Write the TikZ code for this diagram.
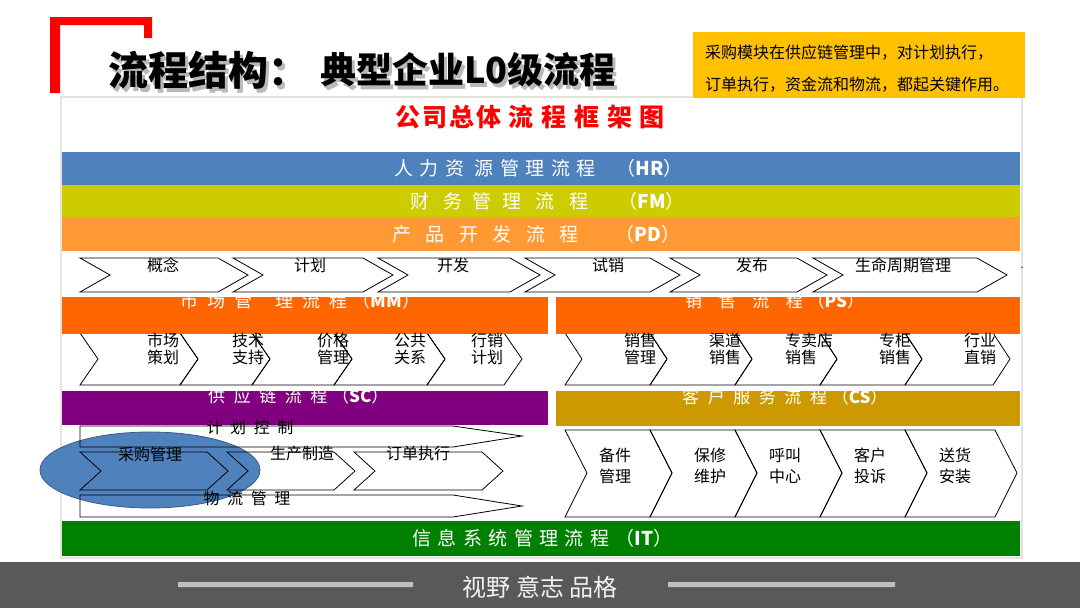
\documentclass[tikz,border=0pt]{standalone}
\usepackage{fontspec}
\setmainfont{Noto Sans CJK SC}
\newfontfamily\bandafont[LetterSpace=34]{Noto Sans CJK SC}
\newfontfamily\bandbfont[LetterSpace=54]{Noto Sans CJK SC}
\newfontfamily\bandcfont[LetterSpace=28]{Noto Sans CJK SC}
\newfontfamily\cabfont[LetterSpace=8]{Noto Sans CJK SC}
\newfontfamily\espfont[LetterSpace=25]{Noto Sans CJK SC}
\usepackage{xcolor}
\usepackage{tikz}
\usetikzlibrary{positioning}
\definecolor{rojo}{RGB}{255,0,0}
\definecolor{azul}{RGB}{79,129,189}
\definecolor{azulosc}{RGB}{56,93,138}
\definecolor{oliva}{RGB}{204,204,0}
\definecolor{naranja}{RGB}{255,153,51}
\definecolor{naranjaf}{RGB}{255,102,0}
\definecolor{morado}{RGB}{128,0,128}
\definecolor{oro}{RGB}{204,153,0}
\definecolor{verde}{RGB}{0,128,0}
\definecolor{amarillo}{RGB}{255,192,0}
\definecolor{pie}{RGB}{89,89,89}
\definecolor{raya}{RGB}{191,191,191}
\definecolor{borde}{RGB}{228,228,218}
\newcommand{\sigla}[1]{{\normalfont\bfseries #1}}
\tikzset{
  banda/.style={inner sep=0pt,anchor=west,text=white,font=\bandafont\fontsize{19}{19}\selectfont},
  bandaw/.style={banda,font=\bandbfont\fontsize{19}{19}\selectfont},
  bandab/.style={banda,font=\bandcfont\fontsize{17}{17}\selectfont},
  flecha/.style={draw=black,line width=0.8pt},
  etiq/.style={inner sep=0pt,align=center,font=\fontsize{16}{17}\selectfont},
  etiqs/.style={etiq,font=\fontsize{16}{21}\selectfont},
  titulo/.style={inner sep=0pt,anchor=west,font=\bfseries\fontsize{36}{36}\selectfont},
  nota/.style={inner sep=0pt,anchor=west,font=\fontsize{16}{16}\selectfont}
}

\begin{document}
\begin{tikzpicture}[x=1pt,y=-1pt]
\useasboundingbox (0,0) rectangle (1080,608);
\fill[white] (0,0) rectangle (1080,608);
% marco
\draw[borde,line width=2.5pt,fill=white] (61,97) rectangle (1022,558);
% corchete rojo y titulo
\fill[rojo] (50,17) rectangle (152,25) (50,17) rectangle (60,93) (144,17) rectangle (152,38);
\node[titulo,font=\bfseries\fontsize{40}{40}\selectfont,text=gray!55] (tit1s) at (111,74) {流程结构：};
\node[titulo,font=\bfseries\fontsize{40}{40}\selectfont] (tit1) at (108,70) {流程结构：};
\node[titulo,text=gray!55] (tit2s) at (323,74) {典型企业L0级流程};
\node[titulo] (tit2) at (320,70) {典型企业L0级流程};
% nota
\fill[amarillo] (693,32) rectangle (1025,98);
\node[nota] (nota1) at (705,53) {采购模块在供应链管理中，对计划执行，};
\node[nota] (nota2) at (705,85) {订单执行，资金流和物流，都起关键作用。};
\node[inner sep=0pt,text=rojo,font=\cabfont\bfseries\fontsize{25}{25}\selectfont] (cab) at (530,117) {公司总体 流 程 框 架 图};

% bandas superiores
\fill[azul] (62,152) rectangle (1020,185);
\node[banda] (hr) at (394,168) {人力资 源管理流程\hspace{10pt} （\sigla{HR}）};
\fill[oliva] (62,185) rectangle (1020,217);
\node[bandaw] (fm) at (410,201) {财 务管理 流 程\hspace{16pt} （\sigla{FM}）};
\fill[naranja] (62,217) rectangle (1020,251);
\node[bandaw] (pd) at (392,234) {产 品 开 发 流 程\hspace{22pt} （\sigla{PD}）};

% MM y PS
\foreach \l/\t in {80/198,180/270,252/352,334/445,427/522}
  \draw[flecha] (\l,333) -- (\t-18,333) -- (\t,359) -- (\t-18,385) -- (\l,385) -- (\l+18,359) -- cycle;
\foreach \l/\t in {565/667,650/752,735/837,820/922,905/1010}
  \draw[flecha] (\l,333) -- (\t-17,333) -- (\t,359) -- (\t-17,385) -- (\l,385) -- (\l+17,359) -- cycle;
\fill[naranjaf] (62,297) rectangle (548,333.5);
\node[bandab,font=\bandcfont\fontsize{18}{18}\selectfont] (mm) at (180,301) {市 场 管\hspace{14pt} 理 流 程（\sigla{MM}）};
\fill[naranjaf] (556,297) rectangle (1020,333.5);
\node[bandab] (ps) at (685,301) {销\hspace{8pt} 售\hspace{8pt} 流\hspace{8pt} 程（\sigla{PS}）};

% PD
\foreach \l/\t in {80/248,233/393,378/540,525/680,670/827,813/1007}
  \draw[flecha] (\l,258) -- (\t-30,258) -- (\t,275) -- (\t-30,292) -- (\l,292) -- (\l+30,275) -- cycle;
\foreach \x/\txt [count=\i] in {163/概念,310/计划,453/开发,608/试销,752/发布,903/生命周期管理}
  \node[etiq] (pd\i) at (\x,265) {\txt};
\node[inner sep=0pt,font=\fontsize{10}{10}\selectfont] (punto) at (1022,268) {.};

\foreach \x/\txt [count=\i] in {163/市场\\策划,248/技术\\支持,333/价格\\管理,410/公共\\关系,487/行销\\计划}
  \node[etiq] (mm\i) at (\x,349) {\txt};
\foreach \x/\txt [count=\i] in {640/销售\\管理,725/渠道\\销售,895/专柜\\销售,980/行业\\直销}
  \node[etiq] (ps\i) at (\x,349) {\txt};
\node[etiq,align=left,anchor=west] (ps5) at (785,349) {专卖店\\销售};

% SC y CS
\fill[morado] (62,391) rectangle (548,425);
\node[bandab] (sc) at (208,396) {供 应 链 流 程（\sigla{SC}）};
\fill[oro] (556,391) rectangle (1020,426);
\node[bandab] (cs) at (682,397) {客 户 服 务 流 程（\sigla{CS}）};

\draw[fill=azul,draw=azulosc,line width=0.8pt] (150,470) ellipse [x radius=110,y radius=38];
\draw[flecha] (80,426) -- (453,426) -- (522,436) -- (453,447) -- (80,447) -- cycle;
\foreach \l/\t in {80/228,227/355,354/503}
  \draw[flecha] (\l,452) -- (\t-21,452) -- (\t,471) -- (\t-21,490) -- (\l,490) -- (\l+21,471) -- cycle;
\draw[flecha] (80,495) -- (453,495) -- (522,506) -- (453,517) -- (80,517) -- cycle;
\node[etiq,font=\espfont\fontsize{16}{16}\selectfont] (plan) at (250,427) {计 划 控 制};
\node[etiq] (compra) at (150,454) {采购管理};
\node[etiq] (prod) at (302,453) {生产制造};
\node[etiq] (orden) at (418,453) {订单执行};
\node[etiq,font=\espfont\fontsize{16}{16}\selectfont] (logis) at (247,498) {物 流 管 理};

\foreach \l/\t in {565/672,650/757,735/842,820/927,905/1017}
  \draw[flecha] (\l,430) -- (\t-22,430) -- (\t,473) -- (\t-22,517) -- (\l,517) -- (\l+22,473) -- cycle;
\foreach \x/\txt [count=\i] in {615/备件\\管理,710/保修\\维护,785/呼叫\\中心,870/客户\\投诉,955/送货\\安装}
  \node[etiqs] (cs\i) at (\x,466) {\txt};

% IT
\fill[verde] (62,521) rectangle (1020,556);
\node[banda] (it) at (412,538) {信息系统管理流程（\sigla{IT}）};

% pie
\fill[pie] (0,562) rectangle (1080,608);
\fill[raya] (178,582) rectangle (413,587) (668,582) rectangle (895,587);
\node[inner sep=0pt,text=white!95!black,font=\fontsize{24}{24}\selectfont] (lema) at (540,587) {视野 意志 品格};
\end{tikzpicture}
\end{document}
